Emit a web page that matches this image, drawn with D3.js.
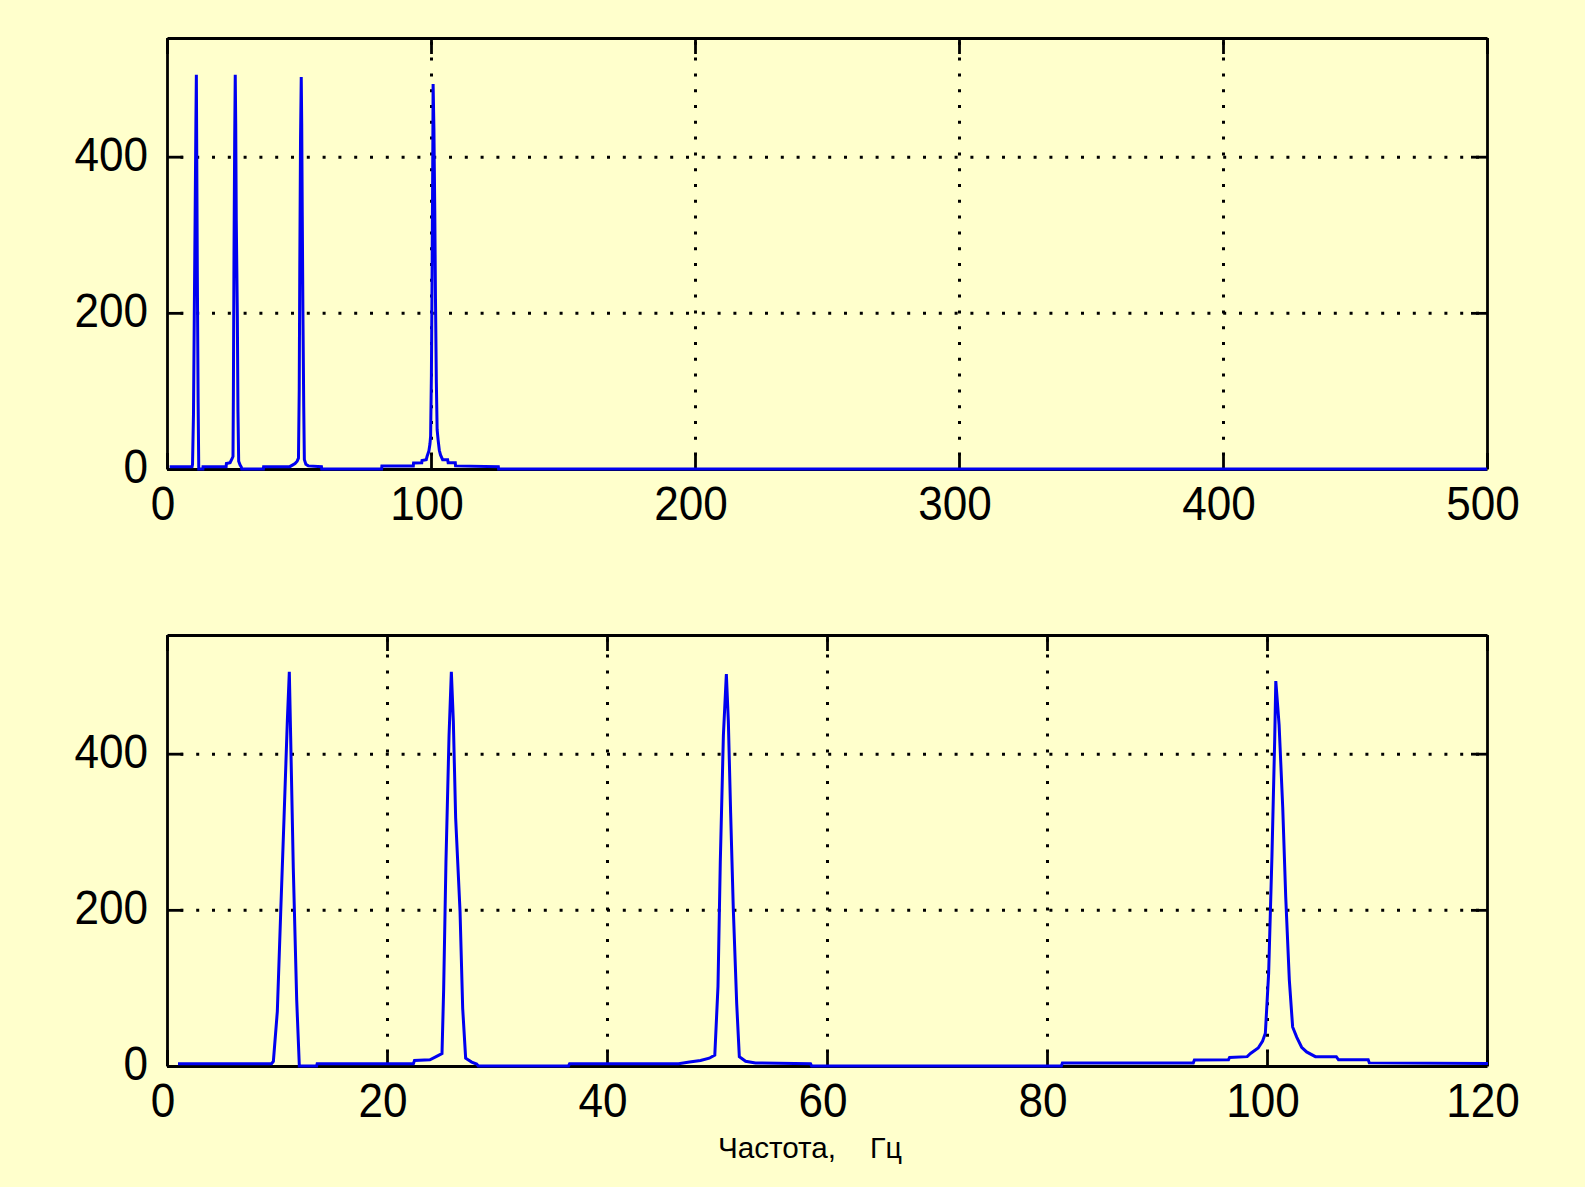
<!DOCTYPE html>
<html>
<head>
<meta charset="utf-8">
<script src="https://cdn.jsdelivr.net/npm/d3@7/dist/d3.min.js"></script>
<style>
  html, body { margin: 0; padding: 0; background: #FFFFCC; }
  svg { display: block; }
</style>
</head>
<body>
<svg id="chart" width="1585" height="1187"></svg>
<script>
// ---------------- DATA ----------------
// Frequency (Hz) of each spectrum point
const freq = [
  1.0, 9.5, 9.67, 10.03, 10.33, 10.64, 10.94, 11.12, 11.24, 11.48, 11.79, 12.03, 13.6,
  13.65, 22.4, 22.5, 23.9, 24.6, 25.0, 25.15, 25.36, 25.64, 25.85, 26.03, 26.24, 26.64, 26.88, 27.15, 27.7, 28.15, 28.3, 36.5,
  36.6, 46.5, 47.5, 48.5, 49.3, 49.8, 50.09, 50.3, 50.58, 50.85, 51.03, 51.24, 51.48, 51.79, 52.03, 52.6, 53.5, 58.5, 58.6, 81.3,
  81.4, 93.3, 93.4, 96.5, 96.6, 98.2, 98.5, 99.2, 99.6, 99.85, 100.15, 100.45, 100.7, 100.8, 101.1, 101.43, 101.7, 102.03, 102.33,
  102.7, 103.15, 103.6, 104.4, 106.3, 106.5, 109.2, 109.3, 125.5, 125.6, 500
];
// Spectrum magnitude at each point
const amp = [
  3, 3, 6, 70, 194, 318, 442, 505, 423, 254, 85, 0, 0,
  3, 3, 7, 8, 13, 16, 98, 262, 423, 505, 442, 318, 198, 74, 10, 5, 2.5, 0, 0,
  3, 3, 5, 7, 10, 14, 102, 262, 423, 502, 442, 324, 202, 80, 12, 6, 4, 3, 0, 0,
  4, 4, 7.7, 8, 11, 12, 16, 23, 32, 42, 119, 269, 418, 493, 437, 331, 217, 110, 50,
  37, 24, 18, 12, 12, 8, 8, 4, 3, 0, 0
];
const topXTicks = [0, 100, 200, 300, 400, 500];
const bottomXTicks = [0, 20, 40, 60, 80, 100, 120];
const yTicks = [0, 200, 400];
const xLabelLeft = "Частота,";
const xLabelRight = "Гц";

// ---------------- LAYOUT ----------------
const svg = d3.select("#chart");
svg.append("rect").attr("width", 1585).attr("height", 1187).attr("fill", "#FFFFCC");

const points = freq.map((f, i) => ({ f: f, a: amp[i] }));

const panels = [
  { left: 167, right: 1487, top: 38, bottom: 469, xMax: 500, ticks: topXTicks },
  { left: 167, right: 1487, top: 635, bottom: 1066, xMax: 120, ticks: bottomXTicks }
];

const TICK = 16;
const SW = 2.8;
const FONT = "'Liberation Sans', Arial, sans-serif";

panels.forEach((p, idx) => {
  const x = d3.scaleLinear().domain([0, p.xMax]).range([p.left, p.right]);
  const y = d3.scaleLinear().domain([0, 552]).range([p.bottom, p.top]);
  const g = svg.append("g");
  const h = p.bottom - p.top;
  const w = p.right - p.left;

  // dotted grid
  const gridX = p.ticks.filter(t => t > 0 && t < p.xMax);
  const gridY = yTicks.filter(t => t > 0);
  const gx = g.append("g").attr("transform", `translate(0,${p.bottom})`)
    .call(d3.axisBottom(x).tickValues(gridX).tickSize(-h).tickFormat(""));
  const gy = g.append("g").attr("transform", `translate(${p.left},0)`)
    .call(d3.axisLeft(y).tickValues(gridY).tickSize(-w).tickFormat(""));
  [gx, gy].forEach(s => {
    s.select(".domain").remove();
    s.selectAll("line").attr("stroke", "#000").attr("stroke-width", 3)
      .attr("stroke-dasharray", "3,12.8").attr("stroke-dashoffset", 2.4);
  });

  // axes (inner ticks, box)
  const axB = g.append("g").attr("transform", `translate(0,${p.bottom})`)
    .call(d3.axisBottom(x).tickValues(p.ticks).tickSize(-TICK).tickSizeOuter(0).tickPadding(16));
  const axT = g.append("g").attr("transform", `translate(0,${p.top})`)
    .call(d3.axisTop(x).tickValues(p.ticks).tickSize(-TICK).tickSizeOuter(0).tickFormat(""));
  const axL = g.append("g").attr("transform", `translate(${p.left},0)`)
    .call(d3.axisLeft(y).tickValues(yTicks).tickSize(-TICK).tickSizeOuter(0).tickPadding(19));
  const axR = g.append("g").attr("transform", `translate(${p.right},0)`)
    .call(d3.axisRight(y).tickValues(yTicks).tickSize(-TICK).tickSizeOuter(0).tickFormat(""));
  [axB, axT, axL, axR].forEach(s => {
    s.select(".domain").attr("stroke", "#000").attr("stroke-width", SW);
    s.selectAll("line").attr("stroke", "#000").attr("stroke-width", SW);
    s.selectAll("text").attr("fill", "#000").style("font-family", FONT).style("font-size", "49px");
  });
  axB.selectAll("text").attr("transform", "scale(0.9,1)").attr("dx", -5);
  axL.selectAll("text").attr("transform", "scale(0.9,1)").attr("x", -19 / 0.9).attr("dy", "0.28em");

  // data line
  const clipId = "clip" + idx;
  svg.append("clipPath").attr("id", clipId).append("rect")
    .attr("x", p.left).attr("y", p.top).attr("width", w + 1).attr("height", h + 4);
  const line = d3.line().x(d => x(d.f)).y(d => y(d.a));
  g.append("path").datum(points.filter(d => d.f <= p.xMax + 50))
    .attr("clip-path", `url(#${clipId})`)
    .attr("d", line)
    .attr("fill", "none").attr("stroke", "#0000F0").attr("stroke-width", 3)
    .attr("stroke-linejoin", "miter");
});

// x label
svg.append("text").attr("x", 718).attr("y", 1158).text(xLabelLeft)
  .style("font-family", FONT).style("font-size", "30px").attr("fill", "#000")
  .attr("textLength", 118).attr("lengthAdjust", "spacingAndGlyphs");
svg.append("text").attr("x", 870).attr("y", 1158).text(xLabelRight)
  .style("font-family", FONT).style("font-size", "30px").attr("fill", "#000")
  .attr("textLength", 32).attr("lengthAdjust", "spacingAndGlyphs");
</script>
</body>
</html>
